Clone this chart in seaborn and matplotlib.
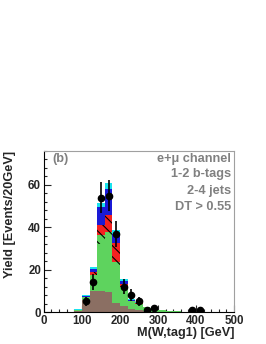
import numpy as np
import pandas as pd
import matplotlib
matplotlib.use("Agg")
import matplotlib.pyplot as plt
from matplotlib.ticker import MultipleLocator
import seaborn as sns

# binning: 20 GeV bins from 0 to 500
edges = list(range(0, 520, 20))
centers = [e + 10 for e in edges[:-1]]

# stacked components, bins 0..24
brown = [0, 0, 0, 0, 0.3, 5.8, 10, 10, 9.4, 4.2, 2.7, 1.4, 0.8, 0.3, 0.2, 0.1, 0.1, 0, 0, 0, 0, 0, 0, 0, 0]
green = [0, 0, 0, 0, 0.7, 1.2, 7.5, 22, 25.6, 17.8, 9.3, 3.6, 3.1, 1.9, 1.5, 0.9, 0.4, 0.3, 0.2, 0.2, 0.1, 0, 0, 0, 0]
green_hatch = [0, 0, 0, 0, 0, 0, 0, 4.5, 3, 1.5, 0, 0, 0, 0, 0, 0, 0, 0, 0, 0, 0, 0, 0, 0, 0]
red = [0, 0, 0, 0, 0, 0.3, 1.5, 4.5, 8, 9, 1.4, 0.4, 0.2, 0.1, 0.1, 0, 0, 0, 0, 0, 0, 0, 0, 0, 0]
blue = [0, 0, 0, 0, 0.1, 0.3, 1.2, 8.6, 12, 4.5, 1.1, 0.4, 0.2, 0.1, 0.1, 0.1, 0.1, 0, 0, 0, 0, 0, 0, 0, 0]
cyan = [0, 0, 0, 0, 0.1, 0.4, 1.1, 1.9, 3, 1.8, 1.2, 0.5, 0.3, 0.1, 0.1, 0.05, 0, 0, 0, 0, 0, 0, 0, 0, 0]

# data points
data_x = [110, 130, 150, 170, 190, 210, 230, 250, 270, 290, 390, 410]
data_y = [5, 14, 54, 55, 37, 12, 8, 5, 1, 2, 1, 1]

layers = [  # bottom to top
    ("brown", brown, "#8b6f63", None),
    ("green", green, "#5ed35e", None),
    ("green_hatch", green_hatch, "#5ed35e", "\\\\\\"),
    ("red", red, "#f52020", "\\\\\\"),
    ("blue", blue, "#1a1ad6", None),
    ("cyan", cyan, "#19e3ee", None),
]

sns.set_style("ticks")
plt.rcParams['font.family'] = ['Liberation Sans', 'DejaVu Sans']
plt.rcParams['font.weight'] = 'bold'
plt.rcParams['hatch.linewidth'] = 0.8

fig = plt.figure(figsize=(2.66, 3.44), dpi=100)
ax = fig.add_axes([0.165, 0.093, 0.715, 0.468])

# cumulative tops, draw from top layer down so lower layers cover upper
tops = np.cumsum([l[1] for l in layers], axis=0)
for i in range(len(layers) - 1, -1, -1):
    name, vals, col, hatch = layers[i]
    df = pd.DataFrame({"x": centers, "w": tops[i]})
    n_before = len(ax.patches)
    sns.histplot(data=df, x="x", weights="w", bins=edges, element="bars",
                 color=col, alpha=1, linewidth=0, ax=ax)
    for p in ax.patches[n_before:]:
        p.set_facecolor(col)
        p.set_linewidth(0)
        if hatch:
            p.set_hatch(hatch)
            p.set_edgecolor("black")

ax.errorbar(data_x, data_y, yerr=np.sqrt(data_y), fmt="o", color="black",
            markersize=4.5, elinewidth=1.2, capsize=0, zorder=10)

ax.set_xlim(0, 500)
ax.set_ylim(0, 76)
ax.xaxis.set_major_locator(MultipleLocator(100))
ax.xaxis.set_minor_locator(MultipleLocator(20))
ax.yaxis.set_major_locator(MultipleLocator(20))
ax.yaxis.set_minor_locator(MultipleLocator(4))
ax.tick_params(which="both", direction="in", top=False, right=False, labelsize=8.3, width=0.8)
ax.tick_params(axis="x", pad=2)
ax.tick_params(axis="y", pad=2)
ax.tick_params(which="major", length=5)
ax.tick_params(which="minor", length=2.5)
for s in ["left", "bottom"]:
    ax.spines[s].set_color("black")
    ax.spines[s].set_linewidth(0.8)
for s in ["top", "right"]:
    ax.spines[s].set_color("#a0a0a0")
    ax.spines[s].set_linewidth(0.8)

ax.set_xlabel("M(W,tag1) [GeV]", fontsize=9.2, fontweight="bold", loc="right", labelpad=0)
ax.set_ylabel("Yield [Events/20GeV]", fontsize=9.2, fontweight="bold", loc="top", labelpad=9)

grey = "#808080"
ax.text(0.047, 0.95, "(b)", transform=ax.transAxes, color=grey, fontsize=9.2,
        fontweight="bold", ha="left", va="center")
labels = ["e+μ channel", "1-2 b-tags", "2-4 jets", "DT > 0.55"]
ypos = [0.95, 0.855, 0.752, 0.65]
for t, y in zip(labels, ypos):
    ax.text(0.984, y, t, transform=ax.transAxes, color=grey, fontsize=9.2,
            fontweight="bold", ha="right", va="center")

plt.savefig("out.png", dpi=100)
